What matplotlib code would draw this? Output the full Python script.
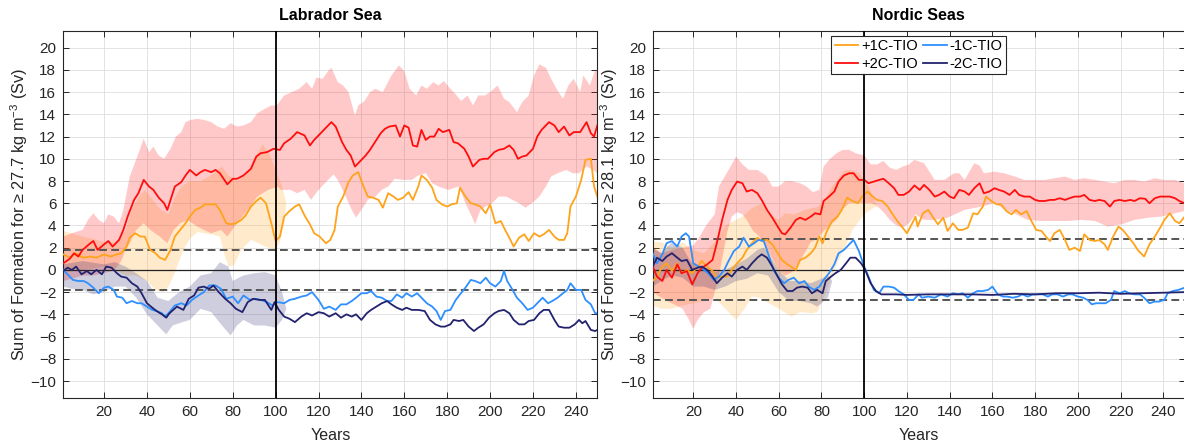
import numpy as np
import matplotlib
matplotlib.use("Agg")
import matplotlib.pyplot as plt

plt.rcParams['font.family'] = ['Liberation Sans', 'DejaVu Sans']
plt.rcParams['mathtext.fontset'] = 'custom'
plt.rcParams['mathtext.rm'] = 'Liberation Sans'
plt.rcParams['mathtext.it'] = 'Liberation Sans:italic'

# ---------------- Labrador Sea ----------------
lab_p2 = [(1,0.6),(4,1.0),(6,1.5),(8,1.2),(10,1.8),(13,2.3),(15,2.6),(17,1.8),(20,2.3),(22,2.6),(24,2.1),(27,2.7),(29,3.6),(31,4.8),(34,6.3),(36,6.9),(38.5,8.1),(41,7.5),(43,7.2),(45.5,6.5),(48,6.0),(49.5,5.4),(51,6.3),(53,7.5),(56,7.9),(58,8.5),(60,9.0),(63,8.5),(65,8.8),(67,9.0),(70,8.8),(72,9.0),(74,8.7),(77.5,7.7),(80,8.2),(82,8.2),(85,8.5),(88.5,9.1),(91,10.2),(93,10.5),(96,10.6),(99,10.9),(102,10.8),(104,11.4),(107,11.8),(110,12.4),(113.5,12.1),(116,11.2),(118,11.7),(121,12.3),(124,12.9),(126,13.3),(128,12.9),(131,11.5),(133,10.8),(135,10.3),(137,9.3),(139,9.7),(142,10.3),(144,10.8),(146,11.4),(149,12.3),(151,12.7),(153,12.9),(156,13.0),(158,12.0),(160,13.0),(162,12.8),(164,11.2),(166,11.1),(168,12.6),(170,11.7),(172,12.0),(174,12.0),(176,12.7),(178,12.4),(181,12.6),(183,11.5),(185,11.4),(188,10.9),(190,10.2),(192,9.3),(195,9.9),(197,10.0),(199,10.0),(202,10.6),(204,10.8),(206.5,10.9),(209,11.2),(211,10.8),(213,10.0),(215,10.2),(217,10.3),(220,10.9),(222,12.0),(224,12.6),(227.5,13.3),(230,13.0),(232,12.4),(234.5,12.9),(237,12.1),(239,12.4),(242,12.4),(245,13.3),(247,12.3),(248.5,12.0),(250,13.0)]
lab_p1 = [(1,1.4),(4,1.1),(7,1.5),(10,1.1),(13.5,1.2),(16.5,1.1),(20,1.4),(23,1.2),(26,1.4),(28,1.5),(30.5,2.1),(32,2.9),(34.5,3.3),(37,3.0),(39,3.0),(41.5,1.8),(44,1.5),(46,1.1),(48.5,0.9),(51,1.8),(53,3.0),(55.5,3.6),(58,4.2),(60,4.8),(62.5,5.4),(65,5.6),(67,5.9),(70,5.9),(72,5.9),(74,5.4),(77,4.2),(79,4.1),(81.5,4.2),(84,4.5),(86,4.9),(88.5,5.7),(91,6.2),(93,6.5),(95.5,6.0),(98,4.2),(100,2.6),(102,3.0),(104,4.8),(106.5,5.3),(109,5.7),(111,5.9),(113.5,4.9),(116,4.1),(118,3.3),(120.5,3.0),(123.5,2.4),(125.5,2.7),(127.5,3.6),(129,5.7),(131.5,6.6),(134,7.9),(136,8.5),(138.5,8.8),(141,7.5),(143,6.6),(145.5,6.5),(148,6.3),(150,5.6),(152.5,6.9),(155,6.6),(157,6.3),(159.5,6.5),(162,7.0),(164,6.3),(166.5,7.5),(168,8.5),(170.5,8.1),(173,7.4),(175,6.3),(177.5,5.9),(180,5.7),(182,5.9),(184.5,6.0),(186,7.4),(188.5,6.6),(191,6.0),(193,5.9),(195.5,5.7),(198,5.1),(200,5.9),(202.5,4.2),(205,4.4),(207,3.6),(209.5,2.7),(211,2.1),(213.5,2.9),(216,3.2),(218,2.6),(220.5,3.3),(223,3.0),(225,3.2),(227.5,3.6),(230,3.0),(232,2.7),(234.5,2.7),(236,3.3),(237.5,5.7),(240,6.6),(242.5,8.1),(244.5,9.9),(247,10.0),(248.5,7.5),(250,6.6)]
lab_m1 = [(1,0.0),(3,-0.4),(5.5,-0.9),(8,-1.0),(10.5,-1.0),(12.5,-1.2),(15,-1.6),(17.5,-2.1),(20,-1.6),(22,-1.5),(24.5,-1.8),(26,-2.4),(28.5,-2.5),(30.5,-3.0),(33,-2.8),(35.5,-3.0),(37.5,-3.0),(40,-3.3),(42.5,-3.6),(44.5,-3.7),(47,-3.9),(48.5,-4.2),(50.5,-3.8),(53,-3.2),(56,-3.0),(58.5,-3.2),(61,-2.7),(64,-2.3),(66.5,-2.0),(69,-1.4),(72,-1.4),(74.5,-1.7),(77,-2.6),(80,-2.4),(82.5,-3.0),(85,-2.3),(88,-2.7),(90.5,-2.6),(93,-2.7),(96,-2.9),(98.5,-3.2),(101,-2.9),(104,-3.0),(106.5,-2.7),(109,-2.6),(112,-2.4),(114.5,-2.3),(117,-2.0),(120,-2.7),(122.5,-3.5),(125,-3.3),(128,-3.6),(130.5,-3.1),(133,-3.1),(135.5,-2.8),(137.5,-2.5),(140,-2.1),(142.5,-2.1),(144.5,-1.9),(147,-2.4),(149.5,-2.5),(152,-2.8),(154,-2.8),(156.5,-2.2),(159,-2.5),(161,-2.1),(163.5,-2.4),(166,-2.1),(168,-2.5),(170.5,-3.0),(173,-3.3),(175,-3.7),(177,-4.5),(179,-3.7),(181.5,-3.6),(184,-2.7),(186,-2.2),(188.5,-1.6),(191,-0.9),(193,-1.0),(195.5,-1.2),(198,-0.7),(200,-1.2),(202.5,-1.5),(205,-1.0),(206.5,-0.1),(208,-1.0),(210.5,-1.8),(212.5,-2.5),(215,-3.0),(217.5,-3.6),(220,-3.4),(222,-3.0),(224.5,-2.5),(227,-3.0),(229,-2.8),(231.5,-2.5),(234,-2.1),(236,-1.8),(237.5,-1.2),(240,-1.8),(242.5,-1.8),(244.5,-2.7),(247,-3.1),(249,-3.9),(250,-3.9)]
lab_m2 = [(1,-0.1),(3,0.2),(5,0.0),(7,0.3),(9.5,-0.4),(12,-0.1),(14,-0.4),(16.5,0.0),(19,-0.4),(21,0.3),(23.5,0.2),(26,-0.3),(28,-0.6),(30.5,-0.7),(33,-1.2),(35.5,-1.5),(37.5,-2.1),(40,-3.0),(42.5,-3.4),(44.5,-3.7),(47,-4.0),(49,-4.3),(50.5,-3.9),(54,-3.3),(57,-3.6),(59.5,-2.6),(62,-2.3),(64,-1.6),(66.5,-1.5),(69,-1.7),(71,-1.4),(73.5,-2.0),(76.5,-2.6),(79,-3.0),(81.5,-3.5),(84.5,-3.8),(87,-2.9),(89.5,-2.6),(92.5,-2.7),(95,-2.7),(98,-3.6),(99.5,-2.9),(101.5,-3.6),(104,-4.2),(106.5,-4.4),(109,-4.7),(112,-4.2),(114.5,-3.9),(117,-4.1),(120,-3.8),(122.5,-3.9),(125,-4.2),(128,-3.9),(130.5,-4.3),(133,-4.0),(135.5,-4.2),(137.5,-4.0),(140,-4.5),(142.5,-3.9),(144.5,-3.6),(147,-3.3),(149.5,-3.0),(152,-2.8),(154,-3.1),(156.5,-3.4),(159,-3.6),(161,-3.4),(163.5,-3.6),(166.5,-3.6),(169.5,-3.7),(172,-4.5),(174.5,-4.9),(177,-5.1),(179,-5.1),(181.5,-4.9),(183,-4.5),(185.5,-4.6),(187.5,-4.5),(190,-5.1),(192.5,-5.5),(194.5,-5.2),(197,-4.9),(199.5,-4.3),(202,-3.9),(204,-3.7),(206.5,-3.6),(209,-3.9),(211,-4.5),(213.5,-4.9),(216,-4.9),(218,-4.6),(220.5,-4.5),(223,-3.9),(225,-3.6),(227.5,-3.6),(230,-4.5),(232,-5.1),(234.5,-5.2),(237,-5.2),(239.5,-4.9),(241.5,-4.5),(243,-4.8),(244.5,-4.6),(247,-5.4),(249,-5.5),(250,-5.4)]

lab_p2_hi = [(1,3.0),(5,3.3),(10,3.6),(12.5,4.5),(15,5.1),(17.5,4.5),(20,4.2),(22,5.0),(24.5,4.8),(27,4.2),(29,5.4),(32,8.4),(35.5,10.2),(38.5,11.8),(41,10.6),(43,11.1),(45.5,10.3),(48,10.0),(51,10.9),(53.5,12.0),(56,12.4),(58,13.3),(60.5,13.5),(63.5,13.6),(66.5,13.5),(70,13.3),(73,12.9),(76,12.7),(79,13.2),(82,12.9),(85,13.0),(88.5,13.3),(91.5,14.1),(95,14.5),(98,14.8),(100.5,14.8),(104,15.7),(107.5,16.0),(111,16.3),(114.5,16.9),(117,16.3),(119,17.3),(122,17.2),(124.5,17.9),(126,18.2),(129,16.9),(131.5,16.6),(134,16.0),(137,13.9),(138.5,14.8),(141.5,15.2),(144,16.0),(146.5,16.3),(150,16.0),(154,17.5),(157.5,18.4),(160,17.9),(162.5,16.3),(165.5,15.7),(168,16.6),(170.5,16.3),(173.5,16.9),(176,16.6),(178.5,17.0),(181.5,16.3),(184,15.8),(186.5,15.2),(189.5,15.7),(192,14.8),(194.5,15.7),(197.5,15.7),(200,16.0),(203.5,16.6),(206.5,15.4),(209,15.1),(212.5,14.2),(215,15.1),(218,15.7),(220.5,17.5),(223,18.5),(226,18.2),(228.5,17.2),(231,16.3),(234,15.4),(236.5,16.6),(239,17.2),(242,16.0),(243.5,17.5),(246.5,16.6),(249,18.0),(250,18.0)]
lab_p2_lo = [(1,-1.0),(5,-0.8),(10,-0.5),(15,-0.5),(20,-0.3),(25,0.0),(28,0.8),(30,1.8),(32,2.4),(35,3.6),(38.5,4.2),(41.5,3.6),(46,3.0),(49.5,2.4),(52.5,3.6),(55.5,4.2),(59,4.5),(63.5,3.9),(66.5,3.6),(70,3.3),(74.5,3.6),(77.5,3.0),(82,4.2),(87,5.4),(91.5,6.6),(96.5,7.2),(101,7.5),(102.5,7.2),(107,7.2),(110,6.9),(113.5,7.2),(116.5,6.3),(120,7.2),(124.5,8.1),(127,8.6),(129,8.1),(132,6.9),(135.5,5.4),(137.5,4.7),(140,5.4),(143,6.3),(146.5,6.6),(149.5,7.2),(152.5,7.5),(155.5,8.2),(159.5,8.1),(163.5,8.1),(166.5,8.5),(170,8.7),(173,7.8),(176,7.5),(180.5,7.2),(185.5,7.5),(188.5,6.0),(191.5,4.8),(193,4.1),(195.5,5.4),(198,5.7),(201,6.0),(204,6.6),(207.5,6.6),(210.5,6.3),(213.5,6.0),(216.5,5.6),(219.5,6.0),(223,6.6),(226,7.5),(228.5,8.4),(231.5,8.7),(235.5,9.0),(238.5,8.7),(241.5,8.7),(245,9.3),(248,9.0),(250,8.7)]
lab_p1_hi = [(1,3.5),(5,3.3),(10,3.0),(15,2.8),(20,2.5),(25,2.5),(30,3.5),(33,5.5),(36,6.5),(39,7.2),(42,6.5),(46,5.5),(50,5.0),(53,6.5),(56,7.5),(60,8.0),(65,8.0),(70,8.5),(75,9.3),(78,8.5),(82,8.0),(86,8.5),(90,10.0),(94,11.3),(97,10.5),(100,9.0),(103,7.5),(105,6.0)]
lab_p1_lo = [(1,-0.2),(10,0.0),(20,0.3),(25,0.0),(30,-0.5),(35,-0.5),(40,-1.0),(44,-1.8),(47.5,-2.0),(50,-1.5),(52.5,-0.5),(55,0.8),(57,1.8),(60,2.8),(63.5,3.4),(67,3.3),(70,3.2),(74,3.0),(76,1.5),(78,0.3),(80.5,0.4),(84,1.8),(88.5,2.7),(92,2.4),(95,2.1),(100,1.8),(102,2.5),(104,4.2),(105,6.0)]
lab_m2_hi = [(1,0.5),(10,0.8),(20,0.5),(25,0.7),(30,0.3),(35,-0.3),(40,-1.0),(45,-2.5),(50,-2.8),(55,-2.0),(60,-1.5),(65,-0.5),(70,-0.3),(74,0.7),(78,0.3),(80,-1.0),(85,-0.5),(90,-0.3),(95,-0.2),(100,-0.5),(103,-2.0),(105,-3.5)]
lab_m2_lo = [(1,-1.5),(5,-1.7),(10,-1.8),(15,-2.2),(20,-2.0),(25,-1.5),(30,-1.5),(35,-2.5),(40,-4.0),(45,-5.0),(49,-5.8),(52,-5.0),(55,-4.8),(60,-4.5),(65,-3.5),(70,-3.8),(75,-5.0),(79,-5.9),(82,-5.0),(85,-4.5),(90,-5.0),(95,-5.0),(100,-5.2),(103,-4.5),(105,-3.5)]

# ---------------- Nordic Seas ----------------
nor_p2 = [(1,0.3),(3,-0.6),(5.5,-1.0),(7.5,0.0),(10,-0.7),(12.5,0.5),(14.5,-0.3),(17,-0.1),(19.5,-1.3),(22,-0.3),(24,0.2),(26.5,0.5),(29,0.9),(31,2.4),(33.5,4.5),(36,6.3),(38,7.2),(40.5,7.95),(43,7.8),(45,7.05),(47.5,7.2),(50,6.9),(52,6.3),(54.5,5.4),(57,4.7),(59.5,3.9),(61.5,3.3),(63,3.2),(65.5,3.8),(68,4.5),(70,4.7),(72.5,4.5),(75,4.8),(77,5.1),(79.5,5.0),(81,6.2),(83.5,6.6),(86,7.05),(88,7.95),(90.5,8.5),(93,8.7),(95,8.7),(97.5,8.1),(100,8.1),(102,7.8),(104.5,7.95),(107,8.1),(109,8.2),(111.5,7.8),(114,7.35),(116,6.75),(118.5,6.75),(121,7.05),(123.5,7.6),(126,7.2),(128,7.65),(130.5,7.2),(133,6.6),(135,6.75),(137.5,7.05),(140,6.6),(142,6.45),(144.5,7.2),(147,7.05),(149,6.75),(151.5,7.35),(154,7.8),(156,6.9),(158.5,7.05),(161,7.35),(163,7.2),(165.5,7.05),(168,6.75),(170.5,7.2),(172.5,6.75),(175,6.6),(177.5,6.6),(180,6.3),(182,6.2),(184.5,6.2),(187,6.3),(189,6.3),(191.5,6.45),(194,6.3),(196,6.45),(198.5,6.6),(201,6.6),(203,6.75),(205.5,6.3),(208,6.2),(210,6.3),(212.5,6.2),(215,5.7),(217,6.2),(219.5,6.3),(222,6.2),(224.5,6.3),(226.5,6.2),(229,6.45),(231.5,6.4),(233.5,6.0),(236,6.45),(238.5,6.6),(240.5,6.6),(243,6.6),(245.5,6.45),(247.5,6.2),(250,6.0)]
nor_p1 = [(1,-1.0),(3,-0.6),(5.5,0.3),(7.5,0.6),(10,-0.1),(12.5,0.6),(14.5,-0.3),(17,0.0),(19.5,-0.3),(22,0.3),(24,0.8),(26.5,0.3),(29,-0.1),(31,-0.7),(33.5,-0.6),(36,-0.6),(38,0.0),(40.5,0.6),(43,1.1),(45,1.8),(47.5,2.4),(50,2.9),(52,2.6),(54.5,2.7),(57,2.3),(59.5,1.5),(61.5,0.9),(64,0.5),(66.5,0.2),(68,0.0),(70,0.9),(72.5,1.1),(75,1.5),(77,2.0),(79,3.0),(80.5,2.4),(82.5,3.5),(85,4.4),(87.5,4.8),(89.5,5.4),(92,6.5),(94.5,6.2),(97,6.0),(99,6.6),(101.5,7.05),(104,6.6),(106,6.3),(108.5,6.2),(111,5.7),(113,5.1),(115.5,4.4),(118,3.8),(120,3.3),(122.5,4.2),(124,4.8),(125,3.9),(127.5,5.1),(130,5.4),(132,4.8),(134.5,4.1),(137,4.7),(139,3.5),(141.5,4.2),(144,3.6),(146,3.6),(148.5,3.8),(151,5.1),(153,5.0),(155.5,5.7),(157,6.6),(159.5,6.2),(162,5.9),(164,5.9),(166.5,5.3),(169,5.0),(171,5.4),(173.5,5.0),(176,5.3),(178,4.5),(180.5,3.6),(183,3.5),(185,3.0),(187,2.6),(189,3.3),(191.5,3.6),(194,2.7),(196,1.8),(198.5,2.0),(201,1.7),(203,3.2),(205.5,2.7),(208,2.6),(210,2.7),(212.5,2.3),(214,1.8),(216.5,3.0),(219,3.9),(221,3.6),(223.5,3.0),(226,2.4),(228,1.8),(231,1.2),(233.5,2.3),(236,3.0),(238.5,3.8),(240.5,4.5),(243,5.1),(245.5,4.4),(247.5,4.2),(250,4.8)]
nor_m1 = [(1,1.5),(3,0.6),(5.5,1.4),(7.5,2.4),(10,2.6),(12.5,2.1),(14.5,3.0),(16.5,3.3),(18,3.0),(20,0.6),(22.5,0.3),(25,0.0),(27,-0.3),(29.5,-0.9),(32,-0.6),(34.5,0.0),(36.5,0.8),(39,1.7),(41.5,2.1),(43.5,2.9),(46,2.1),(48.5,2.4),(50.5,2.7),(53,2.6),(55.5,1.2),(57.5,0.0),(60,-0.7),(62.5,-1.2),(64.5,-0.9),(67,-0.7),(69.5,-1.2),(72,-1.0),(74,-1.5),(76.5,-1.8),(79,-1.5),(81,-0.9),(83.5,-0.3),(86,0.5),(88,1.5),(90.5,1.8),(93,2.3),(95,2.7),(97.5,1.7),(100,0.3),(102,-0.6),(104.5,-1.8),(107,-2.1),(109,-1.5),(111.5,-1.5),(114,-1.6),(116,-1.9),(118.5,-2.2),(121,-2.7),(123,-2.7),(125.5,-2.2),(127,-2.5),(130,-2.4),(133,-2.5),(136,-2.2),(139,-2.4),(141.5,-2.1),(144,-2.2),(146,-2.1),(148.5,-2.5),(151,-2.1),(153,-1.9),(155.5,-1.9),(158,-1.8),(160,-1.5),(162.5,-2.2),(165,-2.4),(167,-2.4),(169.5,-2.5),(172,-2.4),(174,-2.2),(176.5,-2.4),(179,-2.2),(181,-2.2),(183.5,-2.2),(186,-2.4),(188,-2.2),(190.5,-2.2),(193,-2.4),(195.5,-2.2),(197.5,-2.2),(200,-2.4),(202.5,-2.5),(204.5,-2.7),(206.5,-3.1),(208.5,-3.0),(211,-3.0),(213,-3.0),(215.5,-2.7),(217,-1.9),(219.5,-2.1),(222,-1.9),(224,-2.1),(226.5,-2.2),(229,-2.2),(231,-2.5),(233.5,-3.0),(236,-2.85),(238,-2.85),(240.5,-2.7),(242,-2.1),(244.5,-1.9),(247,-1.8),(250,-1.6)]
nor_m2 = [(1,0.3),(3,1.1),(5.5,0.8),(7.5,1.2),(10,1.5),(12.5,1.1),(14.5,0.8),(17,0.9),(19.5,0.0),(22,0.2),(24,0.3),(26.5,0.0),(29,-0.6),(31,-1.2),(33.5,-0.7),(36,-0.3),(38,-0.6),(40.5,0.0),(43,0.3),(45,0.0),(47.5,0.6),(50,1.1),(52,1.4),(54.5,1.1),(57,0.3),(59.5,-0.6),(61.5,-1.3),(64,-1.9),(66.5,-1.9),(68.5,-1.6),(71,-1.5),(73.5,-1.6),(75.5,-2.1),(78,-1.8),(80.5,-2.1),(82,-1.0),(84.5,-0.6),(86.5,-0.3),(89,0.0),(91.5,0.6),(93.5,1.1),(96,1.1),(98.5,0.6),(100.5,0.0),(103,-1.2),(105.5,-1.9),(108,-2.2),(115,-2.2),(120,-2.25),(130,-2.2),(140,-2.2),(150,-2.2),(160,-2.25),(170,-2.15),(180,-2.2),(190,-2.1),(200,-2.1),(210,-2.05),(220,-2.15),(230,-2.1),(240,-2.05),(250,-2.0)]

nor_p2_hi = [(1,2.0),(5,1.5),(10,1.8),(15,2.0),(20,2.2),(23,3.0),(26,4.0),(28,4.5),(30,5.0),(32,7.5),(35,8.5),(38,9.5),(40,10.2),(43,9.5),(46,9.0),(50,9.0),(54,8.5),(57,7.5),(60,7.5),(63,8.0),(66,8.0),(70,7.8),(73,7.5),(76,7.0),(79,7.2),(81,9.3),(84,10.0),(87,10.5),(90,10.8),(93,10.8),(96,10.5),(100,10.3),(103,9.5),(106,9.5),(109,9.8),(112,9.2),(115,9.0),(118,9.3),(121,9.5),(123.5,9.9),(128,9.6),(133,8.1),(137.5,8.1),(142,8.7),(144.5,8.7),(147,8.1),(151.5,9.6),(154,9.4),(156,8.7),(161,8.85),(165.5,8.7),(170.5,8.4),(175,8.1),(180,8.1),(184.5,8.1),(189,8.25),(194,8.4),(198.5,8.1),(203,8.25),(208,8.1),(212.5,7.95),(217,7.8),(222,8.1),(226.5,8.1),(231,7.95),(236,8.25),(240.5,8.1),(245.5,8.1),(250,7.8)]
nor_p2_lo = [(1,-2.0),(5,-2.5),(10,-3.0),(15,-3.5),(18,-4.5),(20,-5.3),(22,-4.5),(25,-3.8),(28,-3.5),(30,-2.0),(32,-0.5),(34,1.5),(36,3.5),(38,4.8),(40.5,5.2),(43,5.0),(45,4.5),(48,3.5),(51,3.0),(54,2.0),(57,1.0),(60,0.0),(63,-0.5),(66,-0.2),(69,0.5),(72,1.5),(75,2.5),(78,2.8),(81,3.5),(84,4.0),(87,4.5),(90,5.5),(93,6.0),(96,6.0),(100,6.0),(103,6.0),(106,5.8),(109,5.2),(112,4.5),(115,4.0),(118,3.8),(121,4.2),(124,5.0),(128,4.5),(133,4.5),(139,4.7),(147,5.4),(155,5.7),(161,6.0),(166,5.4),(170,5.1),(176.5,4.5),(183,4.4),(189,4.4),(195,4.4),(201.5,4.5),(208,4.4),(214,3.9),(220.5,4.1),(226.5,4.5),(233,4.7),(239,4.8),(245.5,5.1),(250,5.3)]
nor_p1_hi = [(1,2.5),(5,2.5),(10,2.0),(15,2.5),(20,1.8),(25,1.5),(30,2.5),(35,4.0),(40,4.5),(43,4.8),(47,5.5),(52,6.0),(56,5.0),(60,4.5),(63,5.1),(67,5.0),(72.5,5.4),(78.5,5.7),(82,6.5),(85,7.5),(88,8.3),(91,9.0),(94,9.0),(97.5,8.7),(100,8.2),(102,7.5),(105.5,6.0),(107,5.5)]
nor_p1_lo = [(1,-3.2),(5,-3.5),(10,-3.5),(15,-3.2),(20,-3.0),(25,-2.8),(30,-2.5),(35,-3.5),(40,-4.5),(44,-3.5),(47.5,-2.4),(51,-2.5),(55.5,-3.0),(60,-3.5),(66,-4.2),(70,-3.8),(75.5,-3.9),(78,-3.8),(82,-2.1),(85,-0.5),(88,0.9),(91,2.0),(94.5,3.6),(100.5,5.1),(105.5,5.7),(107,5.5)]
nor_m2_hi = [(1,2.0),(5,1.5),(10,2.5),(15,2.0),(18,1.0),(20,0.5),(25,0.3),(30,-0.2),(35,0.0),(40,0.5),(45,1.0),(50,1.8),(53,2.0),(55,1.5),(60,0.0),(65,-1.0),(70,-1.0),(75,-1.2),(80,-0.8),(83,-0.5),(85,-1.0)]
nor_m2_lo = [(1,-1.5),(5,-1.0),(10,-0.5),(15,-0.7),(20,-1.5),(25,-1.5),(30,-1.8),(35,-1.5),(40,-1.0),(45,-0.8),(50,-0.3),(55,-0.5),(60,-2.0),(65,-2.8),(70,-2.8),(75,-3.0),(78,-3.3),(80,-3.0),(83,-2.5),(85,-1.0)]

lab_thresh = 1.8
nor_thresh = 2.75
year_ticks = list(range(20, 241, 20))
value_ticks = list(range(-10, 21, 2))

C_P1 = '#FFA31A'
C_P2 = '#FF0D0D'
C_M1 = '#2E8FFF'
C_M2 = '#22226E'

def xy(pts):
    a = np.array(pts, dtype=float)
    return a[:, 0], a[:, 1]

def band(ax, hi, lo, color, alpha):
    xh, yh = xy(hi)
    xl, yl = xy(lo)
    ax.fill(np.concatenate([xh, xl[::-1]]), np.concatenate([yh, yl[::-1]]),
            color=color, alpha=alpha, lw=0, zorder=1)

fig = plt.figure(figsize=(11.84, 4.46), dpi=100)
W, H = 1184.0, 446.0
ax1 = fig.add_axes([63.3 / W, 48.3 / H, 534.0 / W, 366.7 / H])
ax2 = fig.add_axes([652.7 / W, 48.3 / H, 532.0 / W, 366.7 / H])

panels = [
    (ax1, 'Labrador Sea', '27.7', lab_thresh,
     (lab_p1, lab_m1, lab_p2, lab_m2),
     [(lab_p1_hi, lab_p1_lo, C_P1), (lab_p2_hi, lab_p2_lo, C_P2), (lab_m2_hi, lab_m2_lo, C_M2)]),
    (ax2, 'Nordic Seas', '28.1', nor_thresh,
     (nor_p1, nor_m1, nor_p2, nor_m2),
     [(nor_p1_hi, nor_p1_lo, C_P1), (nor_p2_hi, nor_p2_lo, C_P2), (nor_m2_hi, nor_m2_lo, C_M2)]),
]

for ax, title, dens, thr, series, bands in panels:
    for hi, lo, col in bands:
        band(ax, hi, lo, col, 0.22)
    ax.axhline(0, color='#222222', lw=0.9, zorder=2)
    ax.axhline(thr, color='#555555', lw=1.4, ls=(0, (4, 2.2)), zorder=2)
    ax.axhline(-thr, color='#555555', lw=1.4, ls=(0, (4, 2.2)), zorder=2)
    ax.axvline(100, color='black', lw=1.3, zorder=5)
    handles = []
    labels = ['+1C-TIO', '-1C-TIO', '+2C-TIO', '-2C-TIO']
    for pts, col, lab in zip(series, (C_P1, C_M1, C_P2, C_M2), labels):
        x, y = xy(pts)
        h, = ax.plot(x, y, color=col, lw=1.3, label=lab, zorder=4)
        handles.append(h)
    ax.set_xlim(1, 250)
    ax.set_ylim(-11.5, 21.5)
    ax.set_xticks(year_ticks)
    ax.set_yticks(value_ticks)
    ax.grid(True, color='#dedede', lw=0.6)
    ax.set_axisbelow(True)
    ax.tick_params(direction='in', top=True, right=True, length=4, width=0.7,
                   labelsize=11, colors='#262626', pad=5)
    for s in ax.spines.values():
        s.set_color('#262626')
        s.set_linewidth(0.8)
    ax.set_title(title, fontsize=11.5, fontweight='bold', pad=8)
    ax.set_xlabel('Years', fontsize=11.5, color='#262626', labelpad=7)
    ax.set_ylabel('Sum of Formation for \u2265 ' + dens + r' kg m$^{-3}$ (Sv)',
                  fontsize=11.8, color='#262626', labelpad=0)
    if ax is ax2:
        order = [handles[0], handles[2], handles[1], handles[3]]
        leg = ax.legend(order, [h.get_label() for h in order], ncol=2,
                        loc='upper center', bbox_to_anchor=(0.5, 0.987),
                        borderaxespad=0, fontsize=10.5, fancybox=False,
                        framealpha=1, edgecolor='#262626', handlelength=1.6,
                        handletextpad=0.2, columnspacing=0.4, labelspacing=0.22,
                        borderpad=0.25)
        leg.get_frame().set_linewidth(0.8)
        leg.set_zorder(10)

fig.savefig('out.png', dpi=100)
